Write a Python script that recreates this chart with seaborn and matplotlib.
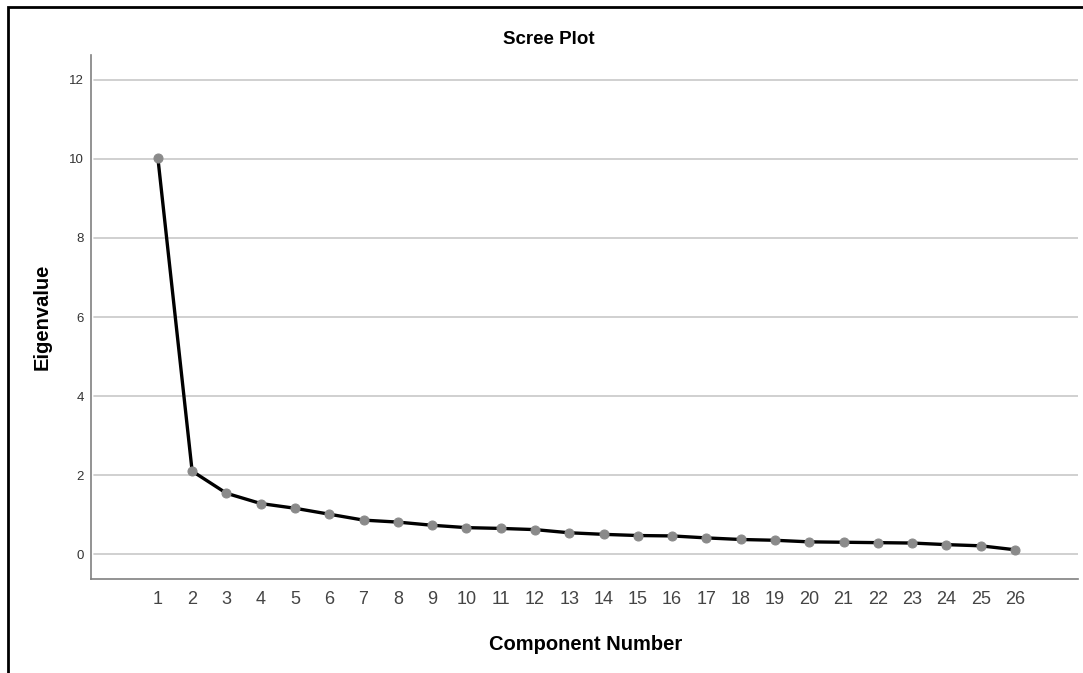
import matplotlib
matplotlib.use("Agg")
import matplotlib.pyplot as plt
import seaborn as sns
import pandas as pd
from matplotlib.patches import Rectangle

components = list(range(1, 27))
eigenvalues = [10.03, 2.10, 1.54, 1.28, 1.16, 1.01, 0.86, 0.81, 0.73, 0.67,
               0.65, 0.62, 0.54, 0.50, 0.47, 0.46, 0.41, 0.37, 0.35, 0.31,
               0.30, 0.29, 0.28, 0.24, 0.21, 0.11]
y_ticks = [0, 2, 4, 6, 8, 10, 12]

sns.set_theme(style="white")
plt.rcParams['font.family'] = ['Liberation Sans', 'DejaVu Sans']

W, H = 1083, 673
fig = plt.figure(figsize=(W / 100, H / 100), dpi=100)
fig.patch.set_facecolor("white")

# outer frame (top and left visible, rest cut off)
fig.patches.append(Rectangle((8 / W, -0.1), 1.2, (H - 7) / H + 0.1, transform=fig.transFigure,
                             fill=False, edgecolor="black", linewidth=2))

left, right, top, bottom = 91, 1078, 55, 579
ax = fig.add_axes([left / W, 1 - bottom / H, (right - left) / W, (bottom - top) / H])
ax.set_facecolor("white")

df = pd.DataFrame({"Component Number": components, "Eigenvalue": eigenvalues})
sns.lineplot(data=df, x="Component Number", y="Eigenvalue", ax=ax, color="black",
             linewidth=2.4, marker="o", markersize=6.5, markerfacecolor="#8a8a8a",
             markeredgecolor="#8a8a8a", zorder=3)

ax.set_xlim(-0.95, 27.84)
ax.set_ylim(-0.63, 12.63)
ax.set_yticks(y_ticks)
ax.set_yticklabels([str(v) for v in y_ticks], fontsize=9.5, color="#333333")
ax.set_xticks(components)
ax.set_xticklabels([str(c) for c in components], fontsize=13, color="#444444")
ax.tick_params(axis="both", length=0)
ax.tick_params(axis="y", pad=5)
ax.tick_params(axis="x", pad=9)

for yv in y_ticks:
    ax.axhline(yv, xmin=0.003, xmax=1.0, color="#c8c8c8", linewidth=1.2, zorder=1)

for s in ["top", "right"]:
    ax.spines[s].set_visible(False)
for s in ["left", "bottom"]:
    ax.spines[s].set_color("#808080")
    ax.spines[s].set_linewidth(1.2)

ax.set_xlabel("")
ax.set_ylabel("")
fig.text(549 / W, 1 - 40 / H, "Scree Plot", ha="center", va="center",
         fontsize=13.5, fontweight="bold", color="black")
fig.text(586 / W, 1 - 645 / H, "Component Number", ha="center", va="center",
         fontsize=14.5, fontweight="bold", color="black")
fig.text(42 / W, 1 - 317 / H, "Eigenvalue", ha="center", va="center", rotation=90,
         fontsize=14.5, fontweight="bold", color="black")

fig.savefig("out.png", dpi=100, facecolor="white")
